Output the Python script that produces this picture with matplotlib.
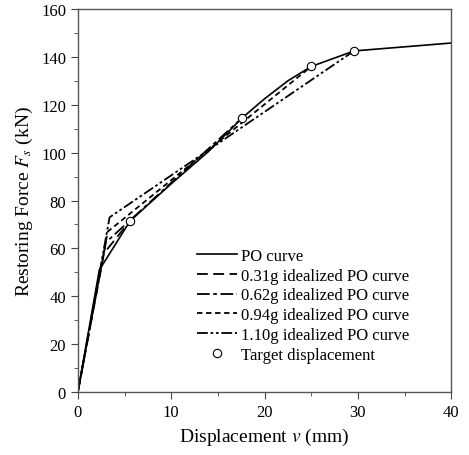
import matplotlib
matplotlib.use("Agg")
import matplotlib.pyplot as plt
from matplotlib.ticker import MultipleLocator

# PO curve (displacement mm, force kN)
po_disp = [0, 2.3, 5.6, 10, 14, 17.6, 20, 22.5, 25, 29.6, 40]
po_force = [0, 51, 71.5, 87, 100.5, 114.5, 122.5, 130, 136, 142.5, 145.8]

# idealized bilinear curves: origin, knee, target
ideal_labels = ["0.31g idealized PO curve", "0.62g idealized PO curve",
                "0.94g idealized PO curve", "1.10g idealized PO curve"]
ideal_disp = [[0, 2.8, 5.6], [0, 3.0, 17.6], [0, 3.2, 25.0], [0, 3.4, 29.6]]
ideal_force = [[0, 58, 71.5], [0, 62.5, 114.5], [0, 67, 136], [0, 73, 142.5]]

# target displacements
target_disp = [5.6, 17.6, 25.0, 29.6]
target_force = [71.5, 114.5, 136, 142.5]

plt.rcParams['font.family'] = ['Liberation Serif', 'DejaVu Serif']
plt.rcParams['mathtext.fontset'] = 'stix'

fig = plt.figure(figsize=(4.69, 4.56), dpi=100)
ax = fig.add_axes([0.166, 0.138, 0.796, 0.840])

ax.plot(po_disp, po_force, color='black', lw=1.2, label="PO curve")
styles = [(0, (6, 3)), (0, (7, 2, 2, 2)), (0, (3, 2)), (0, (6, 1.5, 1.5, 1.5, 1.5, 1.5))]
for d, f, lab, ls in zip(ideal_disp, ideal_force, ideal_labels, styles):
    ax.plot(d, f, color='black', lw=1.3, linestyle=ls, label=lab)
ax.plot(target_disp, target_force, 'o', ms=6, mfc='white', mec='black', mew=0.8,
        linestyle='none', label="Target displacement")

ax.set_xlim(0, 40)
ax.set_ylim(0, 160)
ax.xaxis.set_major_locator(MultipleLocator(10))
ax.xaxis.set_minor_locator(MultipleLocator(5))
ax.yaxis.set_major_locator(MultipleLocator(20))
ax.yaxis.set_minor_locator(MultipleLocator(10))
ax.tick_params(which='both', direction='out', labelsize=12, color='#444444')
ax.tick_params(which='major', length=5)
ax.tick_params(which='minor', length=3)
for s in ax.spines.values():
    s.set_color('#555555')
    s.set_linewidth(1.0)

ax.set_xlabel(r"Displacement $v$ (mm)", fontsize=14, labelpad=4)
ax.set_ylabel(r"Restoring Force $F_s$ (kN)", fontsize=14, labelpad=4)

ax.legend(loc='lower left', frameon=False, fontsize=12, handlelength=2.4,
          handletextpad=0.25, labelspacing=0.23, borderpad=0, borderaxespad=0,
          bbox_to_anchor=(0.319, 0.076))

fig.savefig("out.png", dpi=100)
